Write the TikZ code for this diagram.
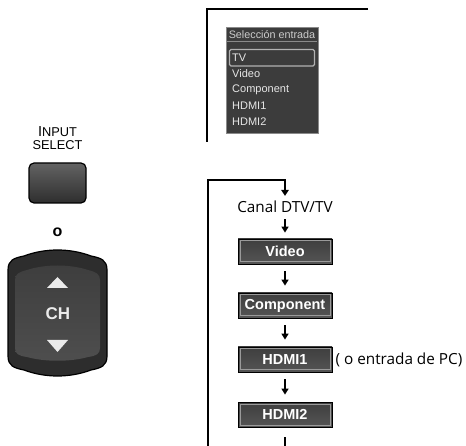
\documentclass[tikz,border=0pt]{standalone}
\usepackage{fontspec}
\setmainfont{Liberation Sans}
\newfontfamily\hum{Open Sans}
\usetikzlibrary{arrows.meta,calc}
\definecolor{menubg}{HTML}{3C3C3C}
\definecolor{menuline}{HTML}{8A8A8A}
\definecolor{menutxt}{HTML}{E6E6E6}
\definecolor{btntop}{HTML}{636363}
\definecolor{btnbot}{HTML}{2E2E2E}
\definecolor{rockrim}{HTML}{2D2D2D}
\definecolor{panA}{HTML}{3E3E3E}
\definecolor{panB}{HTML}{666666}
\definecolor{panC}{HTML}{4E4E4E}
\definecolor{boxtop}{HTML}{3E3E3E}
\definecolor{boxbot}{HTML}{555555}
\definecolor{bevel}{HTML}{9A9A9A}
\begin{document}
\begin{tikzpicture}[x=1pt,y=-1pt,
  frame/.style={line width=2.8pt, line join=miter},
  arr/.style={line width=2pt, -{Triangle[width=7pt,length=6pt]}, shorten <=7pt, shorten >=7pt},
  flowbox/.style={draw=black, line width=0.8pt, minimum width=94pt, minimum height=25pt, inner sep=0pt,
    top color=boxtop, bottom color=boxbot, text=white,
    font=\bfseries\fontsize{14.5}{15}\selectfont,
    path picture={\draw[bevel, line width=1pt]
      ([shift={(2pt,-2pt)}]path picture bounding box.north west) rectangle
      ([shift={(-2pt,2pt)}]path picture bounding box.south east);}},
  item/.style={anchor=west, inner sep=0pt, text=menutxt, font=\fontsize{11}{12}\selectfont},
  hum/.style={inner sep=0pt, font=\hum\fontsize{15.3}{16}\selectfont}
]
\useasboundingbox (0,0) rectangle (466,446);

% ---------- left: INPUT SELECT button ----------
\node[inner sep=0pt, align=center, font=\fontsize{12.8}{13}\selectfont] (inlabel) at (57.5,138.5)
  {{\fontsize{14.5}{13}\selectfont I}NPUT\\SELECT};
\node[draw=black, line width=1.2pt, rounded corners=5pt, minimum width=57pt, minimum height=40pt,
  top color=btntop, bottom color=btnbot] (inbtn) at (57.5,183) {};
\node[inner sep=0pt, font=\bfseries\fontsize{16}{16}\selectfont] (oword) at (57.5,232) {o};

% ---------- CH rocker ----------
\draw[fill=rockrim, draw=black, line width=1.2pt]
  (8,270) -- (8,356) .. controls (8,366) and (14,368) .. (24,370)
  .. controls (45,378) and (70,378) .. (91,370)
  .. controls (101,368) and (107,366) .. (107,356) -- (107,270)
  .. controls (107,260) and (101,258) .. (91,256)
  .. controls (70,248) and (45,248) .. (24,256)
  .. controls (14,258) and (8,260) .. (8,270) -- cycle;
\shade[top color=panA, middle color=panB, bottom color=panC]
  (15,280) -- (15,348) .. controls (15,354) and (19,356) .. (27,357)
  .. controls (45,362) and (70,362) .. (88,357)
  .. controls (96,356) and (100,354) .. (100,348) -- (100,280)
  .. controls (100,274) and (96,272) .. (88,270)
  .. controls (70,264) and (45,264) .. (27,270)
  .. controls (19,272) and (15,274) .. (15,280) -- cycle;
\fill[white!92!black] (47,288) -- (68,288) -- (57.5,277) -- cycle;
\fill[white!92!black] (47,340) -- (68,340) -- (57.5,352) -- cycle;
\node[inner sep=0pt, text=white!92!black, font=\bfseries\fontsize{17}{17}\selectfont] (ch) at (57.8,314) {CH};

% ---------- top-right: menu ----------
\coordinate (tr1) at (368,9);
\coordinate (tr2) at (207,9);
\coordinate (tr3) at (207,142);
\draw[frame] (tr1) -- (tr2) -- (tr3);
\node[draw=menuline, line width=0.6pt, fill=menubg, minimum width=92pt, minimum height=106pt, inner sep=0pt,
  anchor=north west] (menu) at (226,27) {};
\node[inner sep=0pt, text=white!80!black, font=\fontsize{10.8}{11}\selectfont] (mtitle) at (272,35) {Selección entrada};
\draw[menuline, line width=0.8pt] (227,41.5) -- (317,41.5);
\draw[white!70!black, line width=1.3pt, rounded corners=1.5pt] (229.5,49.5) rectangle (314.5,66);
\node[item] (mtv) at (232,58) {TV};
\node[item] (mvideo) at (232,74) {Video};
\node[item] (mcomp) at (232,90) {Component};
\node[item] (mh1) at (232,106) {HDMI1};
\node[item] (mh2) at (232,122) {HDMI2};

% ---------- bottom-right: cycle ----------
\node[hum] (canal) at (285,207) {Canal DTV/TV};
\node[flowbox] (video) at (285,251.5) {Video};
\node[flowbox] (comp) at (285,305.5) {Component};
\node[flowbox] (hdmi1) at (285,359.5) {HDMI1};
\node[flowbox] (hdmi2) at (285,414.5) {HDMI2};
\node[hum, anchor=west] (pc) at ([xshift=3pt]hdmi1.east) {( o entrada de PC)};

\coordinate (loopbot) at (208,446);
\coordinate (looptop) at (208,180);
\coordinate (endbot) at (285,446);
\draw[frame, -{Triangle[width=7.5pt,length=6pt]}, shorten >=5pt] (loopbot) -- (looptop) -| (canal.north);
\draw[arr, shorten <=6pt, shorten >=6pt] (canal) -- (video);
\draw[arr] (video) -- (comp);
\draw[arr] (comp) -- (hdmi1);
\draw[arr] (hdmi1) -- (hdmi2);
\draw[line width=2pt, shorten <=10pt] (hdmi2) -- (endbot);
\end{tikzpicture}
\end{document}
